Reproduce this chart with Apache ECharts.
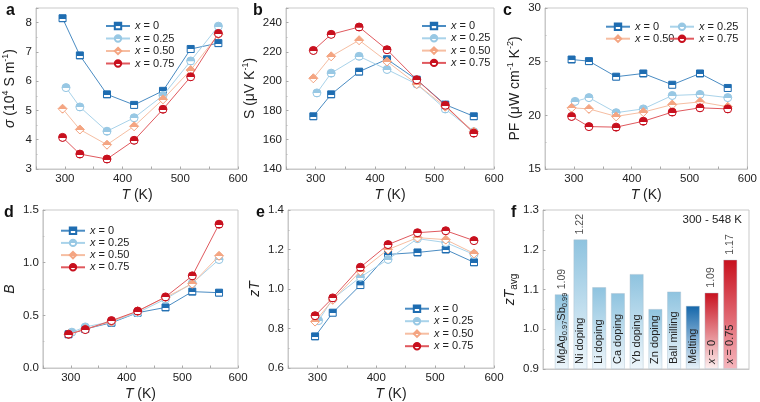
<!DOCTYPE html>
<html><head><meta charset="utf-8">
<script src="https://cdn.jsdelivr.net/npm/echarts@6/dist/echarts.min.js"></script>
<style>html,body{margin:0;padding:0;background:#fff}#c{width:760px;height:402px}</style>
</head><body><div id="c"></div>
<script>
// ---- data ----
const seriesNames = ['x = 0', 'x = 0.25', 'x = 0.50', 'x = 0.75'];
const temps = [296, 326, 373, 420, 470, 518, 566];
const temps025 = [302, 326, 373, 420, 470, 518, 566];

const sigma0  = [8.15, 6.88, 5.55, 5.19, 5.67, 7.10, 7.30];
const sigma25 = [5.78, 5.12, 4.29, 4.75, 5.51, 6.69, 7.88];
const sigma50 = [5.06, 4.35, 3.83, 4.46, 5.38, 6.38, 7.60];
const sigma75 = [4.08, 3.51, 3.34, 3.98, 5.04, 6.15, 7.63];

const seebeck0  = [176, 191, 206.5, 215, 201, 184, 176];
const seebeck25 = [192, 205.5, 217, 208, 198, 181, 165.5];
const seebeck50 = [202, 217, 228, 213.5, 198, 182.5, 165.5];
const seebeck75 = [221, 232, 237, 221.5, 201, 183.5, 164.5];

const pf0  = [25.2, 25.05, 23.6, 23.9, 22.85, 23.9, 22.55];
const pf25 = [21.3, 21.65, 20.25, 20.6, 21.85, 21.95, 21.65];
const pf50 = [20.7, 20.6, 19.9, 20.3, 21.0, 21.25, 20.8];
const pf75 = [19.9, 18.95, 18.9, 19.45, 20.3, 20.7, 20.6];

const bParam0  = [0.32, 0.37, 0.43, 0.525, 0.575, 0.725, 0.715];
const bParam25 = [0.34, 0.39, 0.44, 0.525, 0.655, 0.805, 1.03];
const bParam50 = [0.32, 0.37, 0.44, 0.54, 0.67, 0.80, 1.065];
const bParam75 = [0.32, 0.365, 0.45, 0.54, 0.675, 0.875, 1.365];

const zt0  = [0.76, 0.88, 1.02, 1.175, 1.185, 1.20, 1.135];
const zt25 = [0.84, 0.95, 1.06, 1.15, 1.255, 1.235, 1.175];
const zt50 = [0.835, 0.945, 1.09, 1.20, 1.26, 1.25, 1.18];
const zt75 = [0.865, 0.955, 1.11, 1.225, 1.285, 1.295, 1.245];

const barCategories = ['MgAg0.97Sb0.99', 'Ni doping', 'Li doping', 'Ca doping', 'Yb doping', 'Zn doping', 'Ball milling', 'Melting', 'x = 0', 'x = 0.75'];
const ztAvg = [1.088, 1.226, 1.106, 1.091, 1.139, 1.051, 1.095, 1.059, 1.092, 1.175];
const ztAvgLabels = ['1.09', '1.22', '', '', '', '', '', '', '1.09', '1.17'];

const xTickLabels = [300, 400, 500, 600];

// ---- styles ----
const FONT = '"Liberation Sans", Arial, sans-serif';
const TXT = '#222';
const BOX = '#c9c9c9';
const TICKFS = 11.5;
const NAMEFS = 14;
const styles = [
  {symbol: 'rect', size: 7, mark: '#1f6db1', line: '#4a8cc3'},
  {symbol: 'circle', size: 8, mark: '#98c8e4', line: '#a9d3ea'},
  {symbol: 'diamond', size: 9, mark: '#f4a582', line: '#f6bea2'},
  {symbol: 'circle', size: 8, mark: '#c8101e', line: '#e0595e'}
];
function markFill(c) {
  return new echarts.graphic.LinearGradient(0, 0, 0, 1, [
    {offset: 0, color: c}, {offset: 0.55, color: c},
    {offset: 0.56, color: '#ffffff'}, {offset: 0.85, color: '#ffffff'},
    {offset: 0.86, color: c}, {offset: 1, color: c}
  ]);
}

const grids = [
  {left: 35, top: 8, width: 203, height: 161},
  {left: 286, top: 8, width: 208, height: 161},
  {left: 545, top: 8, width: 204, height: 161},
  {left: 33, top: 210, width: 205, height: 159},
  {left: 288, top: 210, width: 206, height: 159},
  {left: 543, top: 210, width: 206, height: 159}
].map(g => Object.assign(g, {show: true, borderColor: BOX, borderWidth: 1, containLabel: false}));

const richBase = {
  i: {fontStyle: 'italic', fontSize: NAMEFS, lineHeight: 18, fontFamily: FONT, color: TXT},
  r: {fontSize: NAMEFS, lineHeight: 18, fontFamily: FONT, color: TXT},
  sup: {fontSize: 9, lineHeight: 10, verticalAlign: 'top', fontFamily: FONT, color: TXT},
  sub: {fontSize: 10, lineHeight: 10, verticalAlign: 'bottom', fontFamily: FONT, color: TXT}
};

function xAxisFor(idx) {
  return {
    type: 'value', gridIndex: idx, min: 250, max: 600, interval: 50,
    name: '{i|T}{r| (K)}', nameLocation: 'middle', nameGap: 17,
    nameTextStyle: {fontSize: NAMEFS, color: TXT, fontFamily: FONT, rich: richBase},
    axisLine: {show: true, lineStyle: {color: BOX}},
    axisTick: {show: true, inside: true, length: 2.5, lineStyle: {color: '#aaa'}},
    axisLabel: {fontSize: TICKFS, color: TXT, fontFamily: FONT, margin: 4,
      formatter: v => xTickLabels.indexOf(v) >= 0 ? String(v) : ''},
    splitLine: {show: false}
  };
}
function yAxisFor(idx, min, max, interval, name, gap, fmt) {
  return {
    type: 'value', gridIndex: idx, min, max, interval,
    name, nameLocation: 'middle', nameGap: gap,
    nameTextStyle: {fontSize: NAMEFS, color: TXT, fontFamily: FONT, lineHeight: 18, rich: richBase},
    axisLine: {show: true, lineStyle: {color: BOX}},
    axisTick: {show: true, inside: true, length: 2.5, lineStyle: {color: '#aaa'}},
    minorTick: {show: true, splitNumber: 2, length: 1.5, lineStyle: {color: '#bbb'}},
    axisLabel: {fontSize: TICKFS, color: TXT, fontFamily: FONT, margin: 4, formatter: fmt},
    splitLine: {show: false}
  };
}
const isMult = (v, step) => Math.abs(v / step - Math.round(v / step)) < 1e-6;

const xAxes = [0, 1, 2, 3, 4].map(xAxisFor);
xAxes.push({type: 'value', gridIndex: 5, min: 0, max: 11, show: true,
  axisLine: {show: true, lineStyle: {color: BOX}}, axisTick: {show: false},
  axisLabel: {show: false}, splitLine: {show: false}});

const yAxes = [
  yAxisFor(0, 3, 8.5, 1, '{i|σ}{r| (10}{sup|4}{r| S m}{sup|-1}{r|)}', 17, v => isMult(v, 1) ? String(v) : ''),
  yAxisFor(1, 140, 250, 20, '{r|S (μV K}{sup|-1}{r|)}', 22, v => (v <= 240) ? String(v) : ''),
  yAxisFor(2, 15, 30, 5, '{r|PF (μW cm}{sup|-1}{r| K}{sup|-2}{r|)}', 18, v => String(v)),
  yAxisFor(3, 0, 1.5, 0.5, '{i|B}', 21, v => v.toFixed(1)),
  yAxisFor(4, 0.6, 1.4, 0.2, '{i|zT}', 23, v => v.toFixed(1)),
  yAxisFor(5, 0.9, 1.3, 0.1, '{i|zT}{sub|avg}', 22, v => v.toFixed(1))
];
yAxes[5].startValue = 0.9;

const panelData = [
  [sigma0, sigma25, sigma50, sigma75],
  [seebeck0, seebeck25, seebeck50, seebeck75],
  [pf0, pf25, pf50, pf75],
  [bParam0, bParam25, bParam50, bParam75],
  [zt0, zt25, zt50, zt75]
];

const series = [];
panelData.forEach((sets, p) => {
  sets.forEach((vals, k) => {
    const st = styles[k];
    const xs = k === 1 ? temps025 : temps;
    series.push({
      type: 'line', name: seriesNames[k], xAxisIndex: p, yAxisIndex: p,
      data: vals.map((v, i) => [xs[i], v]),
      symbol: st.symbol, symbolSize: st.size, showAllSymbol: true,
      lineStyle: {color: st.line, width: 1},
      itemStyle: {color: markFill(st.mark), borderColor: st.mark, borderWidth: 1},
      emphasis: {disabled: true}, animation: false, z: 2 + k
    });
  });
});

function barGrad(top, bottom) {
  return new echarts.graphic.LinearGradient(0, 0, 0, 1, [{offset: 0, color: top}, {offset: 1, color: bottom}]);
}
function barColor(i) {
  if (i === 7) return barGrad('#1466aa', '#e9f3fa');
  if (i === 8) return barGrad('#c8101e', '#fdf0f0');
  if (i === 9) return barGrad('#c8101e', '#f6b6bd');
  return barGrad('#8ec3df', '#eef6fb');
}
function catRich(name) {
  if (name.startsWith('x')) return '{bi|x}{t|' + name.slice(1) + '}';
  if (/\d+\.\d+/.test(name)) return name.replace(/([A-Za-z]+)(\d+\.\d+)/g, '{t|$1}{s|$2}');
  return '{t|' + name + '}';
}
series.push({
  type: 'bar', name: 'ztavg', xAxisIndex: 5, yAxisIndex: 5, barWidth: 14,
  data: ztAvg.map((v, i) => ({
    value: [i + 1, v],
    itemStyle: {color: barColor(i), borderColor: 'rgba(170,190,205,0.5)', borderWidth: 0.8},
    label: {formatter: catRich(barCategories[i])}
  })),
  label: {
    show: true, position: 'insideBottom', rotate: 90, align: 'left', verticalAlign: 'middle', distance: 5,
    rich: {
      t: {fontSize: 11, lineHeight: 14, color: TXT, fontFamily: FONT},
      bi: {fontSize: 11, lineHeight: 14, color: TXT, fontFamily: FONT, fontStyle: 'italic'},
      s: {fontSize: 7.5, lineHeight: 9, color: TXT, fontFamily: FONT, verticalAlign: 'bottom'}
    }
  },
  emphasis: {disabled: true}, animation: false
});
series.push({
  type: 'scatter', name: 'ztavgLabels', xAxisIndex: 5, yAxisIndex: 5, symbolSize: 0,
  data: ztAvg.map((v, i) => ({value: [i + 1, v], label: {formatter: ztAvgLabels[i]}})).filter((d, i) => ztAvgLabels[i] !== ''),
  label: {show: true, position: 'top', rotate: 90, align: 'left', verticalAlign: 'middle', distance: 5,
    fontSize: 10.5, color: TXT, fontFamily: FONT},
  emphasis: {disabled: true}, animation: false, z: 5
});

function legendAt(names, left, top, gap) {
  return {
    data: names, left, top, orient: 'vertical', itemWidth: 24, itemHeight: 8, itemGap: gap,
    selectedMode: false,
    textStyle: {fontSize: 11, color: TXT, fontFamily: FONT, lineHeight: 12,
      rich: {i: {fontStyle: 'italic', fontSize: 11, fontFamily: FONT, color: TXT}}},
    formatter: n => '{i|x}' + n.slice(1)
  };
}
const legends = [
  legendAt(seriesNames, 100, 15, 0.5),
  legendAt(seriesNames, 416, 15, 0.3),
  legendAt([seriesNames[0], seriesNames[2]], 600, 15.7, 0),
  legendAt([seriesNames[1], seriesNames[3]], 664, 15.7, 0),
  legendAt(seriesNames, 55, 219.7, 0.2),
  legendAt(seriesNames, 399, 297.7, 0.5)
];

const letters = [['a', 6, 3], ['b', 253, 3], ['c', 503, 3], ['d', 4, 205], ['e', 256, 205], ['f', 511, 205]];
const titles = letters.map(([t, l, tp]) => ({text: t, left: l, top: tp, padding: 0,
  textStyle: {fontSize: 16, fontWeight: 'bold', color: '#111', fontFamily: FONT}}));

const chart = echarts.init(document.getElementById('c'), null, {renderer: 'canvas'});
chart.setOption({
  backgroundColor: '#fff',
  animation: false,
  title: titles,
  grid: grids,
  xAxis: xAxes,
  yAxis: yAxes,
  legend: legends,
  series,
  graphic: [{type: 'text', right: 18, top: 214, style: {text: '300 - 548 K', fontSize: 11.5, fontFamily: FONT, fill: TXT}}]
});
</script></body></html>
